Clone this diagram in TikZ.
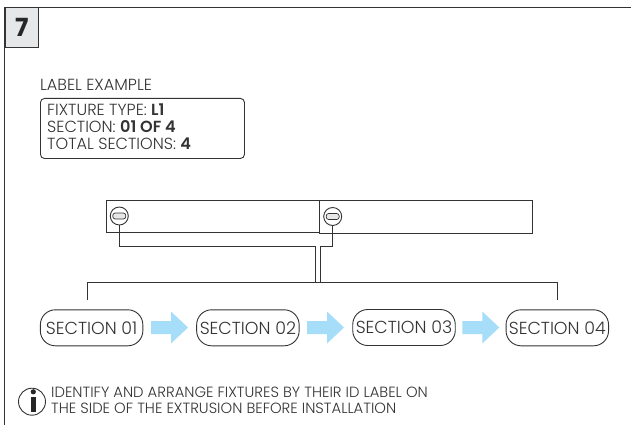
\documentclass[tikz,border=0pt]{standalone}
\usepackage{fontspec}
\setmainfont{Poppins Light}[BoldFont={Poppins SemiBold}]
\newfontfamily\heavyfont{Poppins}[UprightFont={* Bold}]
\usetikzlibrary{calc}
\definecolor{ink}{HTML}{333333}
\definecolor{tabfill}{HTML}{E6E7E8}
\definecolor{flow}{HTML}{A6DDF8}
\tikzset{
  x=1pt,y=-1pt,
  ln/.style={draw=ink,line width=0.9pt},
  sectionbox/.style={ln,rounded corners=15pt,minimum width=102.5pt,minimum height=36pt,inner sep=0pt,font=\fontsize{17.4}{18}\selectfont,text=ink},
  txt/.style={anchor=west,inner sep=0pt,text=ink,font=\fontsize{14.8}{16}\selectfont},
  labeltxt/.style={anchor=west,inner sep=0pt,text=ink,font=\fontsize{16.1}{17}\selectfont},
  flowarrow/.style={fill=flow,draw=none},
  fixture/.style={ln,minimum width=213pt,minimum height=32.5pt,inner sep=0pt},
  lens/.style={ln,circle,minimum size=18pt,inner sep=0pt},
  slot/.style={draw=ink,line width=0.7pt,fill=tabfill,rounded corners=2.5pt,minimum width=13pt,minimum height=6pt,inner sep=0pt}
}
\newcommand{\flowarr}[1]{\fill[flowarrow] (#1,321) -- ++(20,0) -- ++(0,-9.5) -- ++(17,16) -- ++(-17,16) -- ++(0,-9.5) -- ++(-20,0) -- cycle;}
\begin{document}
\begin{tikzpicture}
\useasboundingbox (0,0) rectangle (631,425);
% frame
\coordinate (ftr) at (631,7.5);
\coordinate (ftl) at (4.5,7.5);
\coordinate (fbl) at (4.5,425);
\draw[ln] (ftr) -- (ftl) -- (fbl);
\node[ln,fill=tabfill,anchor=north west,minimum width=33.5pt,minimum height=39.5pt,inner sep=0pt,text=black!85,font=\heavyfont\fontsize{25}{26}\selectfont] (tab) at (4.5,7.5) {7};
% label
\node[labeltxt] (ltitle) at (40,85) {LABEL EXAMPLE};
\node[ln,rounded corners=4pt,anchor=north west,minimum width=204pt,minimum height=60pt,inner sep=0pt] (lbox) at (40,98) {};
\node[labeltxt] (l1) at (47,110) {FIXTURE TYPE: \textbf{L1}};
\node[labeltxt] (l2) at (47,127) {SECTION: \textbf{01 OF 4}};
\node[labeltxt] (l3) at (47,144) {TOTAL SECTIONS: \textbf{4}};
% fixtures
\node[fixture,anchor=north west] (f1) at (105.5,199.5) {};
\node[fixture,anchor=north west] (f2) at (318.5,200) {};
\node[lens] (c1) at (119.3,216) {};
\node[lens] (c2) at (332.7,216.5) {};
\node[slot] at (c1) {};
\node[slot] at (c2) {};
% connectors
\coordinate (j1) at (315,246.7);
\coordinate (j2) at (320.7,246.7);
\coordinate (b1) at (315,282);
\coordinate (b2) at (320.7,282);
\coordinate (hl) at (87,282);
\coordinate (hr) at (557.3,282);
\coordinate (dl) at (87,300);
\coordinate (dr) at (557.3,300);
\draw[ln] (c1.south) |- (j1) -- (b1);
\draw[ln] (c2.south) |- (j2) -- (b2);
\draw[ln] (dl) -- (hl) -- (hr) -- (dr);
% sections
\node[sectionbox] (s1) at (91.6,327.8) {SECTION 01};
\node[sectionbox] (s2) at (247.9,327.8) {SECTION 02};
\node[sectionbox] (s3) at (404,327.5) {SECTION 03};
\node[sectionbox] (s4) at (557.3,327.8) {SECTION 04};
\flowarr{151}
\flowarr{307}
\flowarr{462.3}
% info
\node[ln,circle,minimum size=27pt,inner sep=0pt] (info) at (32,401.7) {};
\fill[black!85] (33.3,391.8) circle (2.6);
\fill[black!85] (30.8,396.7) rectangle (36,411.7);
\node[txt] (n1) at (51,392) {IDENTIFY AND ARRANGE FIXTURES BY THEIR ID LABEL ON};
\node[txt] (n2) at (51,408) {THE SIDE OF THE EXTRUSION BEFORE INSTALLATION};
\end{tikzpicture}
\end{document}
